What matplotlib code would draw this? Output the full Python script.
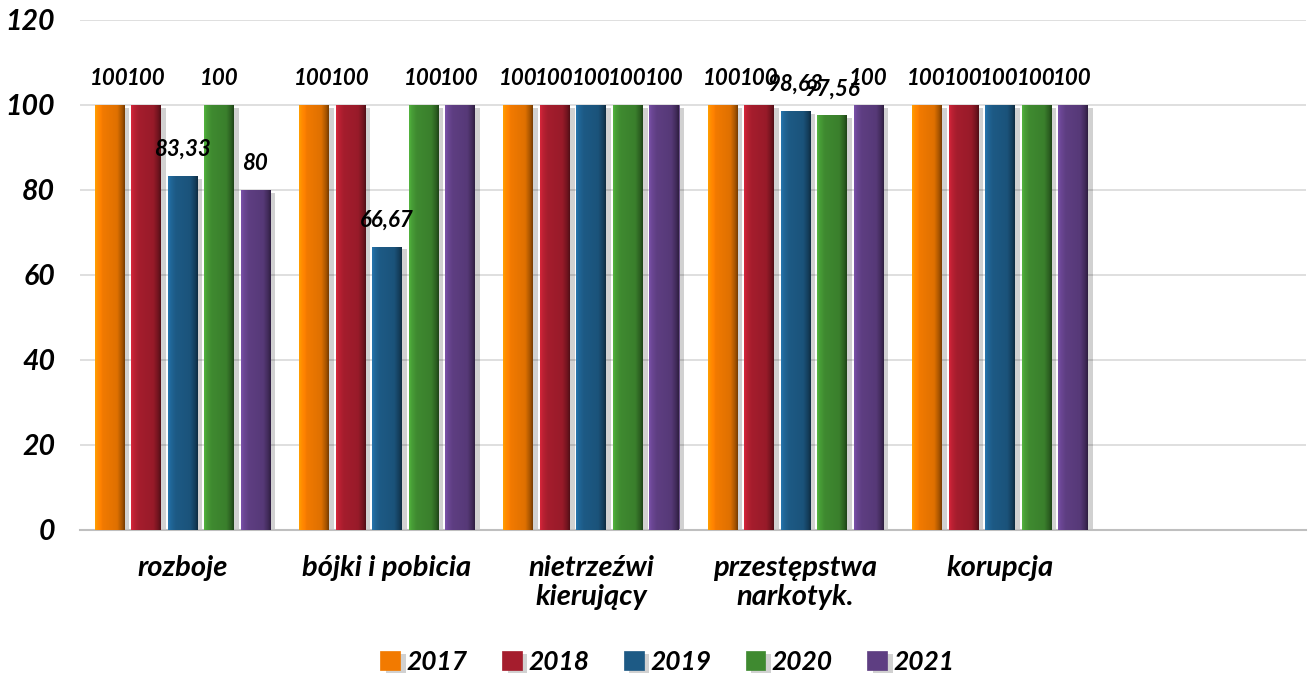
import numpy as np
import matplotlib.pyplot as plt
import matplotlib.colors as mcolors
from matplotlib import patheffects as pe

plt.rcParams['font.family'] = ['Lato', 'DejaVu Sans']

# ---------------------------------------------------------------
categories = ['rozboje', 'bójki i pobicia', 'nietrzeźwi\nkierujący',
              'przestępstwa\nnarkotyk.', 'korupcja']
years = ['2017', '2018', '2019', '2020', '2021']
v2017 = [100, 100, 100, 100, 100]
v2018 = [100, 100, 100, 100, 100]
v2019 = [83.33, 66.67, 100, 98.63, 100]
v2020 = [100, 100, 100, 97.56, 100]
v2021 = [80, 100, 100, 100, 100]
series = [v2017, v2018, v2019, v2020, v2021]
colors = ['#F27A00', '#A51D2D', '#1D5A85', '#3F8A30', '#5E3E82']
# ---------------------------------------------------------------


def fmt(v):
    if float(v).is_integer():
        return str(int(v))
    return ('%.2f' % v).replace('.', ',')


def shade(ax, rect, color):
    # horizontal gradient clipped to the bar, fakes the bevelled look
    base = np.array(mcolors.to_rgb(color))
    t = np.linspace(0, 1, 40)
    prof = np.interp(t, [0, 0.08, 0.25, 0.75, 0.92, 1], [1.3, 1.15, 1.0, 0.92, 0.68, 0.5])
    img = np.clip(base[None, :] * prof[:, None], 0, 1)[None, :, :]
    x0, y0 = rect.get_x(), rect.get_y()
    w, h = rect.get_width(), rect.get_height()
    im = ax.imshow(img, extent=[x0, x0 + w, y0, y0 + h], aspect='auto',
                   interpolation='bilinear', zorder=3)
    im.set_clip_path(rect)


fig = plt.figure(figsize=(13.14, 6.8), dpi=100)
ax = fig.add_axes([0.061, 0.2206, 0.933, 0.75])

x = np.arange(len(categories))
pitch = 0.1787
width = 0.142
handles = []
for j, (vals, c, yr) in enumerate(zip(series, colors, years)):
    bars = ax.bar(x + (j - 2) * pitch, vals, width, color=c, label=yr, zorder=2,
                  edgecolor=mcolors.to_rgb(c), linewidth=0.5,
                  path_effects=[pe.SimplePatchShadow(offset=(4, -2), alpha=0.18, shadow_rgbFace='k'),
                                pe.Normal()])
    for b, v in zip(bars, vals):
        shade(ax, b, c)
        ax.annotate(fmt(v), (b.get_x() + b.get_width() / 2, v), xytext=(0, 19),
                    textcoords='offset points', ha='center', va='center',
                    fontsize=16, fontweight='bold', fontstyle='italic', zorder=5)
    handles.append(bars)

ax.set_xlim(-0.5, 5.5)
ax.set_ylim(0, 120)
ax.set_yticks(range(0, 121, 20))
ax.set_xticks(x)
ax.set_xticklabels(categories, linespacing=1.15)
ax.yaxis.grid(True, color='#D9D9D9', linewidth=1.2, zorder=0)
ax.set_axisbelow(True)
for s in ['top', 'right', 'left']:
    ax.spines[s].set_visible(False)
ax.spines['bottom'].set_color('#BFBFBF')
ax.spines['bottom'].set_linewidth(1.5)
ax.tick_params(axis='both', length=0)
ax.tick_params(axis='y', pad=18)
ax.tick_params(axis='x', pad=18)
for lab in ax.get_yticklabels():
    lab.set_fontsize(20.5)
for lab in ax.get_xticklabels():
    lab.set_fontsize(21)
for lab in ax.get_yticklabels() + ax.get_xticklabels():
    lab.set_fontweight('bold')
    lab.set_fontstyle('italic')

fig.legend(handles=handles, labels=years, loc='center', bbox_to_anchor=(0.508, 0.027),
           ncol=5, frameon=False, handlelength=0.75, handleheight=0.75,
           handletextpad=0.25, columnspacing=1.3,
           prop={'size': 19, 'weight': 'bold', 'style': 'italic'})

fig.savefig('out.png', dpi=100)
